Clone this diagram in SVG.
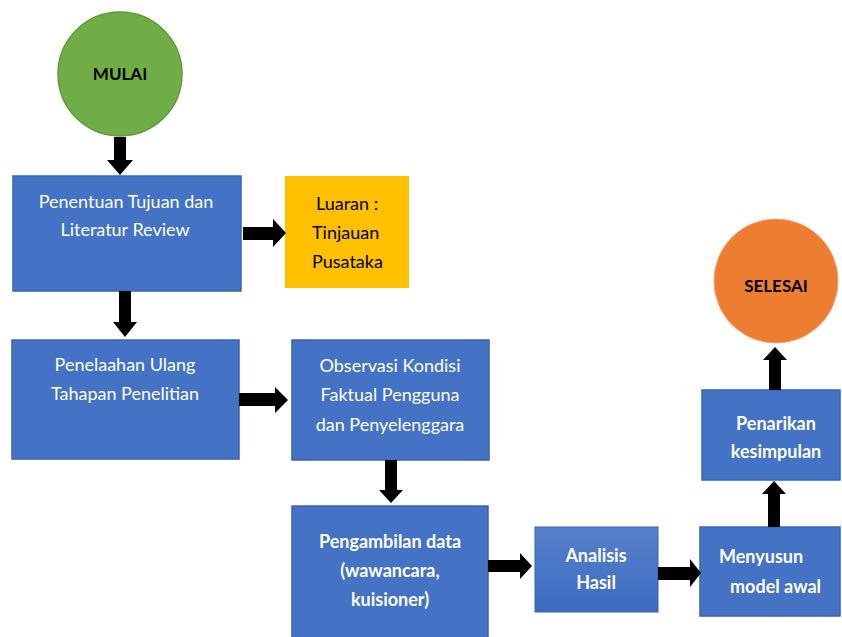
<svg xmlns="http://www.w3.org/2000/svg" width="842" height="637" viewBox="0 0 842 637">
<defs>
<linearGradient id="gblue" x1="0" y1="0" x2="0" y2="1">
<stop offset="0" stop-color="#5580CC"/>
<stop offset="1" stop-color="#3E6BC0"/>
</linearGradient>
</defs>
<style>
.box{fill:#4472C4;stroke:#3B64B0;stroke-width:1.5}
.t{font-family:Lato,"Open Sans","Liberation Sans",sans-serif;font-size:18px;fill:#FFFFFF;text-anchor:middle}
.c{font-size:17px}
.b{font-weight:bold}
.k{fill:#000000}
.arr{fill:#000000}
</style>
<rect width="842" height="637" fill="#FFFFFF"/>
<g id="mulai">
<circle cx="120" cy="74" r="62" fill="#70AD47" stroke="#5E9A3A" stroke-width="1.5"/>
<text class="t c b k" x="120" y="80">MULAI</text>
</g>
<g id="penentuan">
<rect class="box" x="13" y="176" width="228" height="115"/>
<text class="t" x="126" y="208">Penentuan  Tujuan dan</text>
<text class="t" x="125" y="236">Literatur Review</text>
</g>
<g id="luaran">
<rect x="285" y="176" width="124" height="112" fill="#FFC000"/>
<text class="t k" x="316" y="210" style="text-anchor:start">Luaran :</text>
<text class="t k" x="312" y="239" style="text-anchor:start">Tinjauan</text>
<text class="t k" x="312" y="268" style="text-anchor:start">Pusataka</text>
</g>
<g id="penelaahan">
<rect class="box" x="12" y="340" width="227" height="119"/>
<text class="t" x="125" y="371">Penelaahan Ulang</text>
<text class="t" x="125" y="400">Tahapan Penelitian</text>
</g>
<g id="observasi">
<rect class="box" x="292" y="340" width="197" height="120"/>
<text class="t" x="390" y="372">Observasi Kondisi</text>
<text class="t" x="390" y="401">Faktual Pengguna</text>
<text class="t" x="390" y="431">dan Penyelenggara</text>
</g>
<g id="pengambilan">
<rect class="box" x="292" y="506" width="196" height="140"/>
<text class="t b" x="390" y="548">Pengambilan data</text>
<text class="t b" x="390" y="577">(wawancara,</text>
<text class="t b" x="390" y="606">kuisioner)</text>
</g>
<g id="analisis">
<rect x="535" y="527" width="123" height="85" fill="url(#gblue)" stroke="#3B64B0" stroke-width="1"/>
<text class="t b" x="596" y="562">Analisis</text>
<text class="t b" x="596" y="589">Hasil</text>
</g>
<g id="menyusun">
<rect class="box" x="700" y="527" width="140" height="89"/>
<text class="t b" x="719" y="563" style="text-anchor:start">Menyusun</text>
<text class="t b" x="730" y="593" style="text-anchor:start">model awal</text>
</g>
<g id="penarikan">
<rect class="box" x="702" y="390" width="138" height="90"/>
<text class="t b" x="776" y="430">Penarikan</text>
<text class="t b" x="776" y="458">kesimpulan</text>
</g>
<g id="selesai">
<circle cx="776" cy="281" r="62" fill="#ED7D31" stroke="#F2A070" stroke-width="1"/>
<text class="t c b k" x="776" y="292">SELESAI</text>
</g>
<g id="connectors">
<polygon class="arr" points="114,137 126,137 126,160 133,160 120,175 107,160 114,160"/>
<polygon class="arr" points="119,291 131,291 131,322 137,322 125,337 113,322 119,322"/>
<polygon class="arr" points="243,227 273,227 273,219 286,233 273,247 273,240 243,240"/>
<polygon class="arr" points="239,393 275,393 275,387 288,400 275,413 275,406 239,406"/>
<polygon class="arr" points="385,460 397,460 397,490 403,490 391,503 379,490 385,490"/>
<polygon class="arr" points="488,560 520,560 520,553 532,566 520,579 520,572 488,572"/>
<polygon class="arr" points="658,567 690,567 690,559 701,573 690,587 690,580 658,580"/>
<polygon class="arr" points="768,527 780,527 780,494 786,494 774,481 762,494 768,494"/>
<polygon class="arr" points="769,390 781,390 781,360 787,360 775,347 763,360 769,360"/>
</g>
</svg>
